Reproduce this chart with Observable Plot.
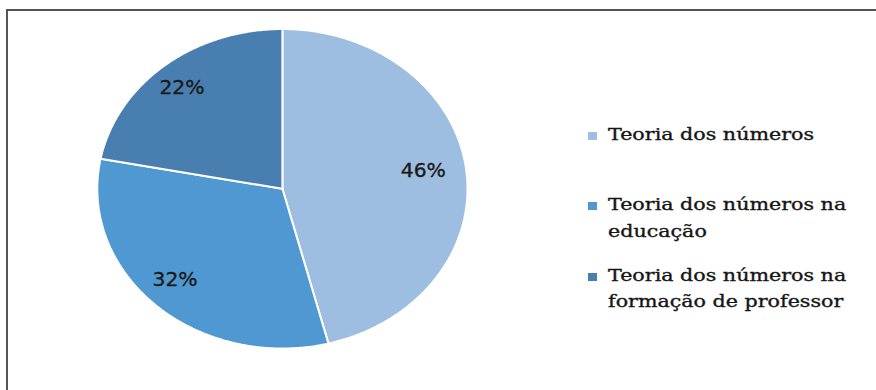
<!DOCTYPE html>
<html><head><meta charset="utf-8">
<script src="https://cdn.jsdelivr.net/npm/d3@7"></script>
<script src="https://cdn.jsdelivr.net/npm/@observablehq/plot@0.6"></script>
<style>
html,body{margin:0;padding:0;background:#fff;}
#wrap{position:relative;width:876px;height:390px;overflow:hidden;}
#chart{position:absolute;left:0;top:0;}
#frame{position:absolute;left:6px;top:9px;width:890px;height:400px;border-top:2px solid #555;border-left:2px solid #555;box-sizing:border-box;}
#legend{position:absolute;left:588px;top:0;}
.item{position:absolute;left:0;width:285px;}
.sw{position:absolute;left:0;top:10px;width:9px;height:8px;}
.lab{position:absolute;left:20px;top:0;width:205px;font-family:"DejaVu Serif";font-size:16.5px;line-height:26.5px;color:#151515;-webkit-text-stroke:0.35px #151515;transform:scaleX(1.25);transform-origin:0 0;}
</style></head><body>
<div id="wrap"><div id="chart"></div><div id="frame"></div><div id="legend"></div></div>
<script>
const categories = ["Teoria dos números", "Teoria dos números na educação", "Teoria dos números na formação de professor"];
const values = [46, 32, 22];
const labels = ["46%", "32%", "22%"];
const colors = ["#9dbee0", "#5098d2", "#497fb0"];

const arcs = d3.pie().sort(null).value(d => d)(values);
const pts = [];
arcs.forEach((s, i) => {
  pts.push({cat: categories[i], x: 0, y: 0});
  const n = Math.max(2, Math.ceil((s.endAngle - s.startAngle) / 0.01));
  for (let k = 0; k <= n; k++) {
    const a = s.startAngle + (s.endAngle - s.startAngle) * k / n;
    pts.push({cat: categories[i], x: Math.sin(a), y: Math.cos(a)});
  }
  pts.push({cat: categories[i], x: 0, y: 0});
});
const labelPts = arcs.map((s, i) => {
  const a = (s.startAngle + s.endAngle) / 2;
  return {x: 0.8 * Math.sin(a), y: 0.8 * Math.cos(a), text: labels[i]};
});

const chart = Plot.plot({
  width: 876, height: 390, margin: 0,
  style: {background: "transparent"},
  x: {domain: [-1, 1], range: [96.8, 467], axis: null},
  y: {domain: [-1, 1], range: [348, 28.5], axis: null},
  color: {domain: categories, range: colors},
  marks: [
    Plot.line(pts, {x: "x", y: "y", z: "cat", fill: "cat", stroke: "white", strokeWidth: 2, strokeLinejoin: "miter"}),
    Plot.text(labelPts, {x: "x", y: "y", text: "text", fontSize: 19, fontFamily: "DejaVu Sans", fill: "#1a1a1a", stroke: "#1a1a1a", strokeWidth: 0.35, dx: -6, dy: -2.2})
  ]
});
chart.querySelectorAll("text").forEach(t => {
  const tr = t.getAttribute("transform");
  if (tr) t.setAttribute("transform", tr + " scale(1.07,1)");
});
document.getElementById("chart").appendChild(chart);

const legend = document.getElementById("legend");
categories.forEach((c, i) => {
  const item = document.createElement("div");
  item.className = "item";
  item.style.top = (122 + i * 70.3) + "px";
  const sw = document.createElement("div");
  sw.className = "sw";
  sw.style.background = colors[i];
  const lab = document.createElement("div");
  lab.className = "lab";
  lab.textContent = c;
  item.appendChild(sw);
  item.appendChild(lab);
  legend.appendChild(item);
});
</script>
</body></html>
